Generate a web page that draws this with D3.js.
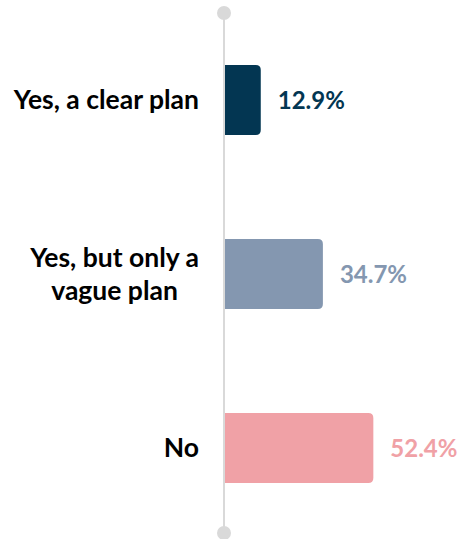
<!DOCTYPE html>
<html>
<head>
<meta charset="utf-8">
<script src="https://cdn.jsdelivr.net/npm/d3@7"></script>
<style>
  html, body { margin: 0; padding: 0; background: #fff; }
  svg { display: block; }
  text { font-family: Lato, "Open Sans", sans-serif; font-weight: 700; }
</style>
</head>
<body>
<svg id="chart" width="462" height="539"></svg>
<script>
const categories = ["Yes, a clear plan", "Yes, but only a\nvague plan", "No"];
const values = [12.9, 34.7, 52.4];
const valueLabels = ["12.9%", "34.7%", "52.4%"];
const colors = ["#033652", "#8497b0", "#f0a1a6"];

const svg = d3.select("#chart");
const axisX = 224;
const x = d3.scaleLinear().domain([0, 60]).range([axisX, axisX + 171]);
const y = d3.scaleBand().domain(categories).range([65, 483]).paddingInner(0.598).paddingOuter(0);
const r = 5;

function barPath(x0, x1, y0, h) {
  const rr = Math.min(r, (x1 - x0));
  return `M${x0},${y0}H${x1 - rr}Q${x1},${y0} ${x1},${y0 + rr}V${y0 + h - rr}Q${x1},${y0 + h} ${x1 - rr},${y0 + h}H${x0}Z`;
}

svg.selectAll("path.bar").data(categories).join("path")
  .attr("class", "bar")
  .attr("d", (c, i) => barPath(x(0), x(values[i]), y(c), y.bandwidth()))
  .attr("fill", (c, i) => colors[i]);

// value labels
svg.selectAll("text.val").data(categories).join("text")
  .attr("class", "val")
  .attr("x", (c, i) => x(values[i]) + 17)
  .attr("y", (c) => y(c) + y.bandwidth() / 2)
  .attr("dy", "0.36em")
  .attr("font-size", 24)
  .attr("fill", (c, i) => colors[i])
  .text((c, i) => valueLabels[i]);

// category labels: block right aligned, lines centred
const labelRight = 199;
const lineH = 33;
categories.forEach((c) => {
  const lines = c.split("\n");
  const g = svg.append("g");
  const cy = y(c) + y.bandwidth() / 2;
  const texts = lines.map((ln, j) => g.append("text")
    .attr("font-size", 26.5)
    .attr("fill", "#000")
    .attr("text-anchor", "middle")
    .attr("y", cy + (j - (lines.length - 1) / 2) * lineH)
    .attr("dy", "0.34em")
    .text(ln));
  const maxW = d3.max(texts, t => t.node().getComputedTextLength());
  texts.forEach(t => t.attr("x", labelRight - maxW / 2));
});

// axis line with end dots
svg.append("line")
  .attr("x1", axisX).attr("x2", axisX)
  .attr("y1", 13).attr("y2", 533)
  .attr("stroke", "#d9d9d9").attr("stroke-width", 2);
svg.append("circle").attr("cx", axisX).attr("cy", 13).attr("r", 7).attr("fill", "#d9d9d9");
svg.append("circle").attr("cx", axisX).attr("cy", 533).attr("r", 7).attr("fill", "#d9d9d9");
</script>
</body>
</html>
